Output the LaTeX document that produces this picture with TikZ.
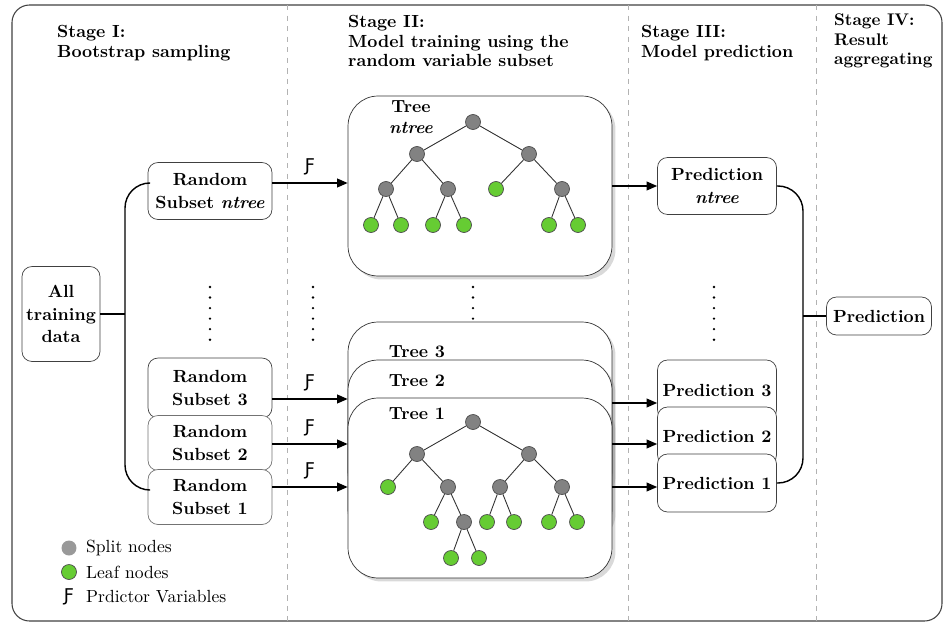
\documentclass[tikz,border=0pt]{standalone}
\usepackage{fontspec}
\usepackage{tikz}
\usetikzlibrary{arrows.meta,shadows}
\newfontfamily\hookfont{DejaVu Sans}
\definecolor{leafgreen}{RGB}{102,204,51}
\definecolor{splitgray}{RGB}{130,130,130}
\newcommand{\predvar}{{\hookfont Ƒ}}

\begin{document}
\begin{tikzpicture}[x=0.02cm, y=-0.02cm,
  stagetitle/.style={anchor=west, align=left, font=\bfseries\fontsize{10}{11}\selectfont},
  box/.style={draw=black!75, fill=white, rounded corners=0.2cm, align=center, inner sep=0,
    font=\bfseries\fontsize{10}{13}\selectfont},
  treebox/.style={draw=black!80, fill=white, rounded corners=0.6cm, minimum width=5.28cm,
    minimum height=3.6cm, drop shadow={shadow xshift=0.07cm, shadow yshift=-0.07cm, opacity=0.3}},
  splitnode/.style={circle, draw=black!70, fill=splitgray, minimum size=0.3cm, inner sep=0},
  leafnode/.style={circle, draw=black!70, fill=leafgreen, minimum size=0.3cm, inner sep=0},
  treeline/.style={draw=black!80, line width=0.5pt},
  conn/.style={draw=black, line width=0.8pt},
  arr/.style={conn, -{Triangle[length=6pt, width=5pt]}},
  stagesep/.style={draw=black!30, dashed, line width=0.4pt},
  dotcol/.style={line width=1.5pt, line cap=round, dash pattern=on 0pt off 6pt}]

\useasboundingbox (0,0) rectangle (946,625);
\draw[draw=black!75, line width=0.6pt, rounded corners=0.35cm] (12,5) rectangle (942,621);
\draw[stagesep] (287,5) -- (287,621);
\draw[stagesep] (628,5) -- (628,621);
\draw[stagesep] (816,5) -- (816,621);

\node[stagetitle] (st1) at (51,43) {Stage I:\\Bootstrap sampling};
\node[stagetitle] (st2) at (342,41) {Stage II:\\Model training using the\\random variable subset};
\node[stagetitle] (st3) at (635,43) {Stage III:\\Model prediction};
\node[stagetitle, font=\bfseries\fontsize{9.6}{11}\selectfont] (st4) at (828,41) {Stage IV:\\Result\\aggregating};

\node[box, minimum width=1.56cm, minimum height=1.9cm] (data) at (61,314) {All\\training\\data};
\node[box, minimum width=2.48cm, minimum height=1.14cm] (sn) at (210,191) {Random\\Subset \textit{ntree}};
\node[box, minimum width=2.48cm, minimum height=1.2cm] (s3) at (210,388) {Random\\Subset 3};
\node[box, draw=black!55, minimum width=2.48cm, minimum height=1.1cm] (s2) at (210,443) {Random\\Subset 2};
\node[box, draw=black!55, minimum width=2.48cm, minimum height=1.1cm] (s1) at (210,497) {Random\\Subset 1};
\coordinate (bl) at (125,314);

\draw[dotcol] (210,287) -- (210,341);
\draw[dotcol] (313,287) -- (313,341);
\draw[dotcol] (473,287) -- (473,341);
\draw[dotcol] (714,287) -- (714,341);

\node[treebox] (tn) at (480,186) {};
\node[treebox] (t3) at (480,412) {};
\node[treebox] (t2) at (480,450) {};
\node[treebox] (t1) at (480,488) {};
\node[align=center, font=\bfseries\fontsize{10}{12}\selectfont] (tnlab) at (411,117) {Tree\\\textit{ntree}};
\node[font=\bfseries] (t3lab) at (417,352) {Tree 3};
\node[font=\bfseries] (t2lab) at (417,381) {Tree 2};
\node[font=\bfseries] (t1lab) at (417,414) {Tree 1};

\node[splitnode] (a) at (473,122) {};
\node[splitnode] (a1) at (417,154) {};
\node[splitnode] (a2) at (529,154) {};
\node[splitnode] (a11) at (386,189) {};
\node[splitnode] (a12) at (448,189) {};
\node[leafnode] (a21) at (496,189) {};
\node[splitnode] (a22) at (562,189) {};
\node[leafnode] (a111) at (371,225) {};
\node[leafnode] (a112) at (401,225) {};
\node[leafnode] (a121) at (433,225) {};
\node[leafnode] (a122) at (464,225) {};
\node[leafnode] (a221) at (549,225) {};
\node[leafnode] (a222) at (578,225) {};
\foreach \p/\c in {a/a1, a/a2, a1/a11, a1/a12, a2/a21, a2/a22, a11/a111, a11/a112,
  a12/a121, a12/a122, a22/a221, a22/a222}
  \draw[treeline] (\p) -- (\c);

\node[splitnode] (b) at (473,422) {};
\node[splitnode] (b1) at (417,454) {};
\node[splitnode] (b2) at (529,454) {};
\node[leafnode] (b11) at (388,487) {};
\node[splitnode] (b12) at (448,487) {};
\node[splitnode] (b21) at (500,487) {};
\node[splitnode] (b22) at (562,487) {};
\node[leafnode] (b121) at (431,522) {};
\node[splitnode] (b122) at (464,522) {};
\node[leafnode] (b211) at (487,522) {};
\node[leafnode] (b212) at (514,522) {};
\node[leafnode] (b221) at (549,522) {};
\node[leafnode] (b222) at (577,522) {};
\node[leafnode] (b1221) at (451,558) {};
\node[leafnode] (b1222) at (479,558) {};
\foreach \p/\c in {b/b1, b/b2, b1/b11, b1/b12, b2/b21, b2/b22, b12/b121, b12/b122,
  b21/b211, b21/b212, b22/b221, b22/b222, b122/b1221, b122/b1222}
  \draw[treeline] (\p) -- (\c);

\node[box, minimum width=2.38cm, minimum height=1.14cm] (pn) at (717,186) {Prediction\\\textit{ntree}};
\node[box, minimum width=2.38cm, minimum height=1.2cm] (p3) at (717,390) {Prediction 3};
\node[box, minimum width=2.38cm, minimum height=1.16cm] (p2) at (717,436) {Prediction 2};
\node[box, minimum width=2.38cm, minimum height=1.16cm] (p1) at (717,483) {Prediction 1};
\node[box, minimum width=2.1cm, minimum height=0.76cm] (fin) at (879,316) {Prediction};
\coordinate (br) at (803,316);

\draw[conn] (data.east) -- (data.east -| bl);
\draw[conn, rounded corners=0.5cm] ([yshift=0.16cm]sn.west) -| (bl) |- ([yshift=0.14cm]s1.west);
\draw[arr] ([yshift=0.16cm]sn.east) -- ([yshift=0.16cm]sn.east -| tn.west) node[midway, above=1pt] {\predvar};
\draw[arr] ([yshift=-0.22cm]s3.east) -- ([yshift=-0.22cm]s3.east -| t1.west) node[midway, above=1pt] {\predvar};
\draw[arr] ([yshift=-0.02cm]s2.east) -- ([yshift=-0.02cm]s2.east -| t1.west) node[midway, above=1pt] {\predvar};
\draw[arr] ([yshift=0.2cm]s1.east) -- ([yshift=0.2cm]s1.east -| t1.west) node[midway, above=1pt] {\predvar};

\draw[arr] (tn.east |- pn.west) -- (pn.west);
\draw[arr] ([yshift=-0.26cm]p3.west -| t1.east) -- ([yshift=-0.26cm]p3.west);
\draw[arr] ([yshift=-0.16cm]p2.west -| t1.east) -- ([yshift=-0.16cm]p2.west);
\draw[arr] ([yshift=-0.08cm]p1.west -| t1.east) -- ([yshift=-0.08cm]p1.west);
\draw[conn, rounded corners=0.5cm] (pn.east) -| (br) |- (p1.east);
\draw[conn] (br) -- (fin.west);

\node[circle, fill=black!40, minimum size=0.3cm, inner sep=0] (lgsplit) at (69,548) {};
\node[anchor=west] (lgsplittxt) at (80,548) {Split nodes};
\node[leafnode] (lgleaf) at (69,572) {};
\node[anchor=west] (lgleaftxt) at (80,572) {Leaf nodes};
\node (lgvar) at (69,597) {\predvar};
\node[anchor=west] (lgvartxt) at (80,597) {Prdictor Variables};
\end{tikzpicture}
\end{document}
